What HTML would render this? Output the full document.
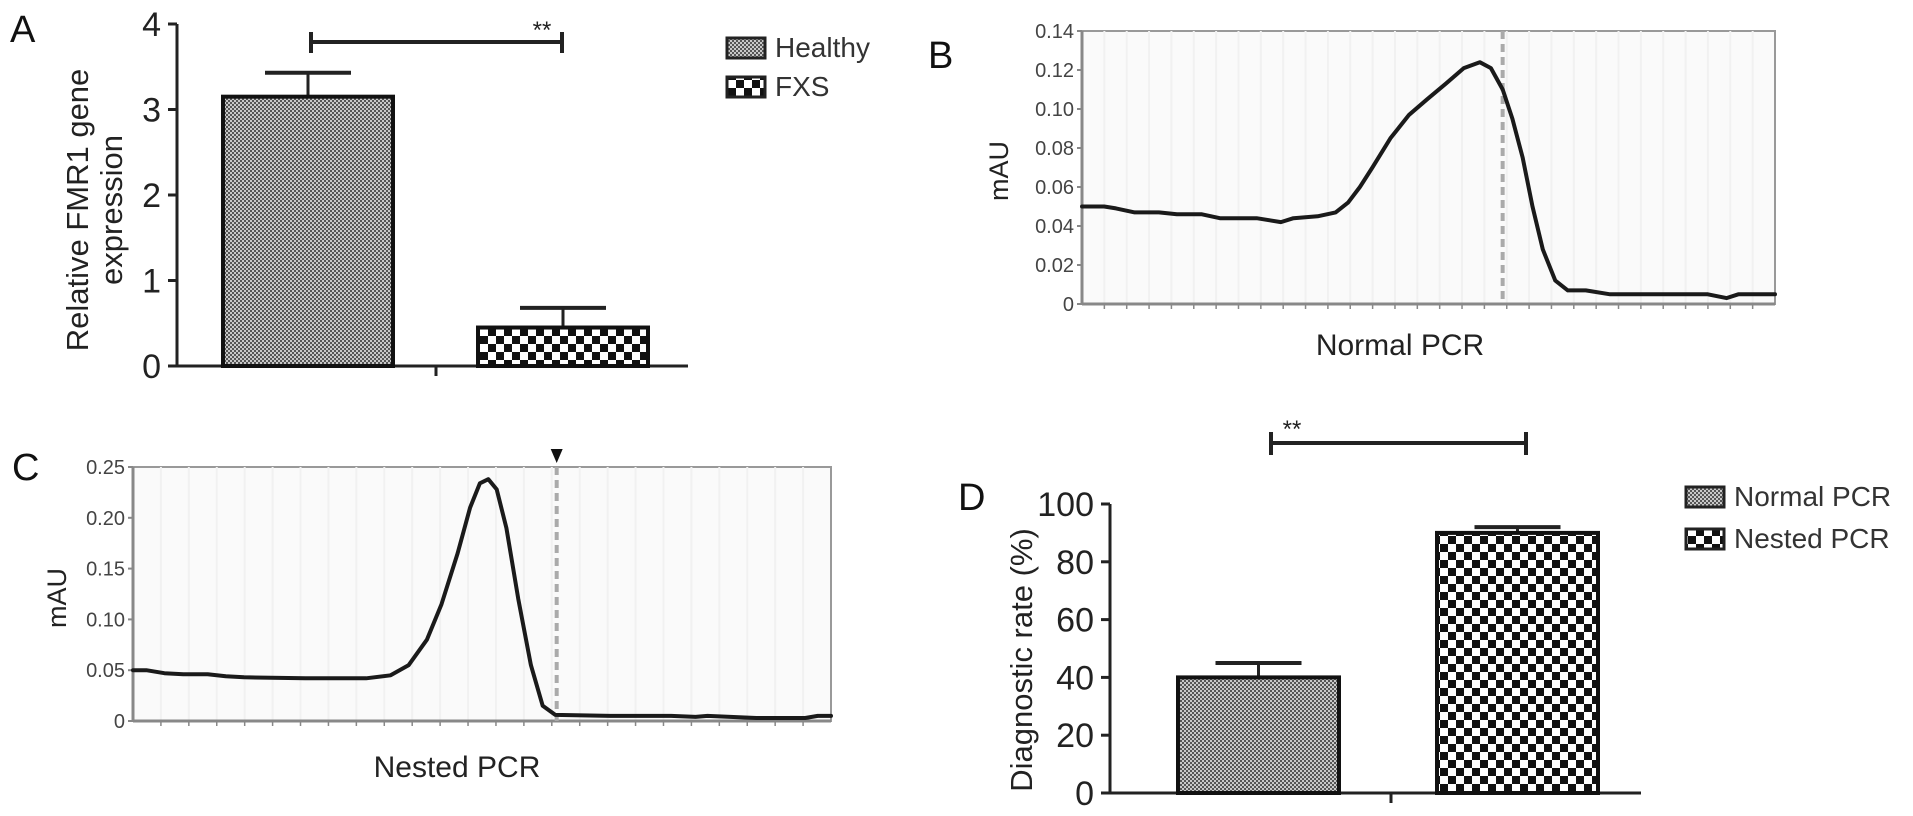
<!DOCTYPE html>
<html><head><meta charset="utf-8"><style>
html,body{margin:0;padding:0;background:#fff;}
svg{display:block;font-family:"Liberation Sans",Arial,sans-serif;}
</style></head><body>
<svg id="fig" width="1913" height="816" viewBox="0 0 1913 816" xmlns="http://www.w3.org/2000/svg">
<defs>
<pattern id="dots" width="4" height="4" patternUnits="userSpaceOnUse">
<rect width="4" height="4" fill="#c8c8c8"/><rect width="2" height="2" fill="#555"/><rect x="2" y="2" width="2" height="2" fill="#555"/>
</pattern>
<pattern id="checks" width="16" height="16" patternUnits="userSpaceOnUse">
<rect width="16" height="16" fill="#fff"/><rect width="8" height="8" fill="#111"/><rect x="8" y="8" width="8" height="8" fill="#111"/>
</pattern>
</defs>
<g id="panelA"></g>
<g id="panelB"></g>
<g id="panelC"></g>
<g id="panelD"></g>
</svg>
<script>
// Panel A data
const aCategories = ["Healthy", "FXS"];
const aValues = [3.15, 0.45];
const aErrors = [3.43, 0.68];
const aTicks = [0, 1, 2, 3, 4];
// Panel D data
const dCategories = ["Normal PCR", "Nested PCR"];
const dValues = [40, 90];
const dErrors = [45, 92];
const dTicks = [0, 20, 40, 60, 80, 100];
// Panel B chromatogram (x: relative run position 0-100, y: mAU)
const bX = [0,3.2,4.9,7.6,11.1,13.7,17.3,19.9,22.5,25.2,28.7,30.5,34.0,36.6,38.4,40.1,41.9,44.5,47.2,49.8,52.5,55.1,57.4,59.0,60.7,62.1,63.6,65.0,66.5,68.3,70.1,72.7,76.2,81.5,86.8,90.3,93.0,94.7,100];
const bY = [0.050,0.050,0.049,0.047,0.047,0.046,0.046,0.044,0.044,0.044,0.042,0.044,0.045,0.047,0.052,0.060,0.070,0.085,0.097,0.105,0.113,0.121,0.124,0.121,0.110,0.095,0.075,0.050,0.028,0.012,0.007,0.007,0.005,0.005,0.005,0.005,0.003,0.005,0.005];
const bTicks = [0, 0.02, 0.04, 0.06, 0.08, 0.10, 0.12, 0.14];
const bMarker = [60.7];
// Panel C chromatogram
const cX = [0,1.9,4.5,7.2,10.7,13.3,15.9,24.7,33.4,36.9,39.5,42.1,44.2,46.5,48.3,49.7,50.9,52.1,53.5,55.2,57.0,58.7,60.5,68.4,77.1,80.6,82.3,89.3,96.3,98.1,100];
const cY = [0.050,0.050,0.047,0.046,0.046,0.044,0.043,0.042,0.042,0.045,0.055,0.080,0.115,0.165,0.210,0.234,0.238,0.228,0.190,0.120,0.055,0.015,0.006,0.005,0.005,0.004,0.005,0.003,0.003,0.005,0.005];
const cTicks = [0, 0.05, 0.10, 0.15, 0.20, 0.25];
const cMarker = [60.7];

const NS = "http://www.w3.org/2000/svg";
function mk(parent, tag, attrs, text) {
  const e = document.createElementNS(NS, tag);
  for (const k in attrs) e.setAttribute(k, attrs[k]);
  if (text !== undefined) e.textContent = text;
  parent.appendChild(e);
  return e;
}

function barPanel(g, cfg) {
  const y = v => cfg.y0 - (v - cfg.vmin) / (cfg.vmax - cfg.vmin) * (cfg.y0 - cfg.y1);
  let el;
  el = mk(g, "text", {x: cfg.labelX, y: cfg.labelY, "font-size": 38, fill: "#111"}, cfg.label);
  
  
  el = mk(g, "line", {x1: cfg.ax, y1: cfg.y1, x2: cfg.ax, y2: cfg.y0, stroke: "#222", "stroke-width": 3});
  
  
  el = mk(g, "line", {x1: cfg.ax, y1: cfg.y0, x2: cfg.axEnd, y2: cfg.y0, stroke: "#222", "stroke-width": 3});
  
  
  el = mk(g, "line", {x1: cfg.midTick, y1: cfg.y0, x2: cfg.midTick, y2: cfg.y0 + 10, stroke: "#222", "stroke-width": 3});
  
  
  cfg.ticks.forEach(t => {
    el = mk(g, "line", {x1: cfg.ax - 9, y1: y(t), x2: cfg.ax, y2: y(t), stroke: "#222", "stroke-width": 3});
    
    
    el = mk(g, "text", {x: cfg.ax - 16, y: y(t) + 12, "font-size": cfg.tickFont, "text-anchor": "end", fill: "#222"}, String(t));
    
    
  });
  const tg = mk(g, "text", {transform: `translate(${cfg.titleX},${cfg.titleY}) rotate(-90)`, "font-size": 31, "text-anchor": "middle", fill: "#222"});
  
  
  cfg.title.forEach((ln, i) => mk(tg, "tspan", {x: 0, dy: i === 0 ? 0 : 34}, ln));
  const fills = ["url(#dots)", "url(#checks)"];
  cfg.values.forEach((v, i) => {
    const x0 = cfg.barX[i], w = cfg.barW, cx = x0 + w / 2;
    el = mk(g, "line", {x1: cx, y1: y(v), x2: cx, y2: y(cfg.errors[i]), stroke: "#222", "stroke-width": 3});
    
    
    el = mk(g, "line", {x1: cx - 43, y1: y(cfg.errors[i]), x2: cx + 43, y2: y(cfg.errors[i]), stroke: "#222", "stroke-width": 4});
    
    
    el = mk(g, "rect", {x: x0, y: y(v), width: w, height: y(cfg.vmin) - y(v), fill: fills[i], stroke: "#111", "stroke-width": 4});
    
    
  });
  const b = cfg.bracket;
  el = mk(g, "path", {d: `M${b.x1},${b.ya} V${b.yb} M${b.x2},${b.ya} V${b.yb} M${b.x1},${b.y} H${b.x2}`, stroke: "#222", "stroke-width": 4, fill: "none"});
  
  
  el = mk(g, "text", {x: b.sx, y: b.sy, "font-size": 24, "text-anchor": "middle", fill: "#222"}, "**");
  
  
  cfg.cats.forEach((c, i) => {
    el = mk(g, "rect", {x: cfg.legX, y: cfg.legY[i], width: 38, height: 20, fill: fills[i], stroke: "#222", "stroke-width": 3});
    
    
    el = mk(g, "text", {x: cfg.legX + 48, y: cfg.legY[i] + 19, "font-size": 28, fill: "#333"}, c);
    
    
  });
}

function chromPanel(g, cfg) {
  const xs = v => cfg.px0 + v / 100 * (cfg.px1 - cfg.px0);
  const ys = v => cfg.py0 - v / cfg.vmax * (cfg.py0 - cfg.py1);
  let el;
  el = mk(g, "text", {x: cfg.labelX, y: cfg.labelY, "font-size": 38, fill: "#111"}, cfg.label);
  
  
  el = mk(g, "rect", {x: cfg.px0, y: cfg.py1, width: cfg.px1 - cfg.px0, height: cfg.py0 - cfg.py1, fill: "#fafafa", stroke: "#999", "stroke-width": 2});
  
  
  for (let i = 1; i < cfg.nMinor; i++) {
    const x = cfg.px0 + i * (cfg.px1 - cfg.px0) / cfg.nMinor;
    el = mk(g, "line", {x1: x, y1: cfg.py1, x2: x, y2: cfg.py0, stroke: "#f1f1f1", "stroke-width": 2});
    
    
    el = mk(g, "line", {x1: x, y1: cfg.py0, x2: x, y2: cfg.py0 + 5, stroke: "#888", "stroke-width": 1.5});
    
    
  }
  el = mk(g, "line", {x1: cfg.px0, y1: cfg.py1, x2: cfg.px0, y2: cfg.py0, stroke: "#888", "stroke-width": 3});
  
  
  el = mk(g, "line", {x1: cfg.px0, y1: cfg.py0, x2: cfg.px1, y2: cfg.py0, stroke: "#888", "stroke-width": 3});
  
  
  cfg.ticks.forEach(t => {
    el = mk(g, "line", {x1: cfg.px0 - 5, y1: ys(t), x2: cfg.px0, y2: ys(t), stroke: "#888", "stroke-width": 2});
    
    
    el = mk(g, "text", {x: cfg.px0 - 8, y: ys(t) + 7, "font-size": 20, "text-anchor": "end", fill: "#444"}, t === 0 ? "0" : t.toFixed(2));
    
    
  });
  const mx = xs(cfg.marker[0]);
  el = mk(g, "line", {x1: mx, y1: cfg.py1, x2: mx, y2: cfg.py0, stroke: "#aaa", "stroke-width": 4, "stroke-dasharray": "8,5"});
  
  
  if (cfg.arrow) {
    el = mk(g, "path", {d: `M${mx - 6},${cfg.py1 - 18} L${mx + 6},${cfg.py1 - 18} L${mx},${cfg.py1 - 4} Z`, fill: "#111"});
    
    
  }
  const pts = cfg.x.map((v, i) => xs(v).toFixed(1) + "," + ys(cfg.y[i]).toFixed(1)).join(" ");
  el = mk(g, "polyline", {points: pts, fill: "none", stroke: "#1a1a1a", "stroke-width": 4, "stroke-linejoin": "round", "stroke-linecap": "round"});
  
  
  el = mk(g, "text", {transform: `translate(${cfg.yTitleX},${cfg.yTitleY}) rotate(-90)`, "font-size": 27, "text-anchor": "middle", fill: "#222"}, "mAU");
  
  
  el = mk(g, "text", {x: cfg.xTitleX, y: cfg.xTitleY, "font-size": 30, "text-anchor": "middle", fill: "#222"}, cfg.xTitle);
  
  
}

barPanel(document.getElementById("panelA"), {
  label: "A", labelX: 10, labelY: 42,
  ax: 177, axEnd: 688, y0: 366, y1: 24, vmin: 0, vmax: 4, midTick: 436,
  ticks: aTicks, tickFont: 34, values: aValues, errors: aErrors, cats: aCategories,
  barX: [223, 478], barW: 170,
  title: ["Relative FMR1 gene", "expression"], titleX: 88, titleY: 210,
  bracket: {x1: 311, x2: 562, y: 42, ya: 32, yb: 53, sx: 542, sy: 38},
  legX: 727, legY: [38, 77]
});
barPanel(document.getElementById("panelD"), {
  label: "D", labelX: 958, labelY: 510,
  ax: 1110, axEnd: 1641, y0: 793, y1: 504, vmin: 0, vmax: 100, midTick: 1391,
  ticks: dTicks, tickFont: 34, values: dValues, errors: dErrors, cats: dCategories,
  barX: [1178, 1437], barW: 161,
  title: ["Diagnostic rate (%)"], titleX: 1032, titleY: 660,
  bracket: {x1: 1271, x2: 1526, y: 443, ya: 432, yb: 455, sx: 1292, sy: 437},
  legX: 1686, legY: [487, 529]
});
chromPanel(document.getElementById("panelB"), {
  label: "B", labelX: 928, labelY: 68,
  px0: 1082, px1: 1775, py0: 304, py1: 31, vmax: 0.14, nMinor: 31,
  ticks: bTicks, x: bX, y: bY, marker: bMarker, arrow: false,
  yTitleX: 1008, yTitleY: 171, xTitle: "Normal PCR", xTitleX: 1400, xTitleY: 355
});
chromPanel(document.getElementById("panelC"), {
  label: "C", labelX: 12, labelY: 480,
  px0: 133, px1: 831, py0: 721, py1: 467, vmax: 0.25, nMinor: 25,
  ticks: cTicks, x: cX, y: cY, marker: cMarker, arrow: true,
  yTitleX: 66, yTitleY: 598, xTitle: "Nested PCR", xTitleX: 457, xTitleY: 777
});
</script>
</body></html>
